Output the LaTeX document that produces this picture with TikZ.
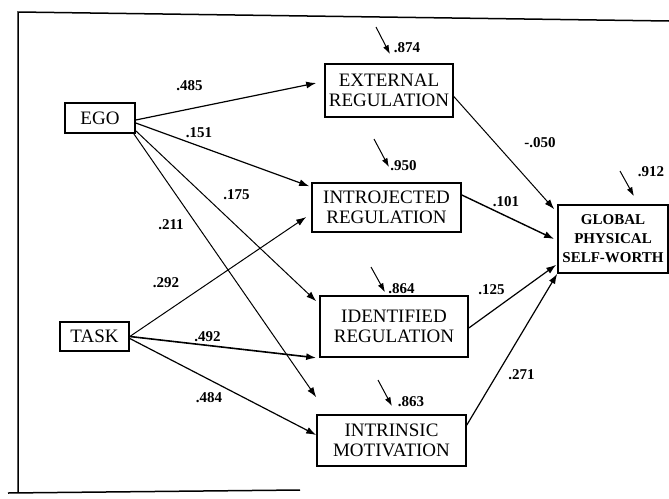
\documentclass[tikz,border=0pt]{standalone}
\usepackage{fontspec}
\setmainfont{Liberation Serif}
\usetikzlibrary{arrows.meta}

\begin{document}
\begin{tikzpicture}[x=1pt,y=-1pt,
  var/.style={draw,line width=1.6pt,inner sep=0pt,align=center,
    font=\fontsize{19}{20.5}\selectfont},
  coef/.style={inner sep=0pt,font=\bfseries\fontsize{15}{15}\selectfont},
  path/.style={line width=1.2pt,-{Latex[length=10pt,width=7pt]}},
  resid/.style={line width=1pt,-{Latex[length=9pt,width=6pt]}}]

\useasboundingbox (0,0) rectangle (669,498);

% Cadre
\draw[line width=1.5pt]
(669,21)
--
(18,12)
--
(18,492);

\draw[line width=1.5pt]
(8,493)
--
(300,490);

% Orientations
\node[var,minimum width=70pt,minimum height=30pt]
(ego) at (100,118)
{EGO};

\node[var,minimum width=69pt,minimum height=29pt]
(task) at (94.5,336.5)
{TASK};

% Regulations
\node[var,minimum width=128pt,minimum height=53pt]
(ext) at (389,90.5)
{EXTERNAL\\REGULATION};

\node[var,minimum width=149pt,minimum height=49pt]
(intro) at (386.5,207.5)
{INTROJECTED\\REGULATION};

\node[var,minimum width=148pt,minimum height=61pt]
(ident) at (394,326.5)
{IDENTIFIED\\REGULATION};

\node[var,minimum width=149pt,minimum height=51pt]
(intrin) at (391.5,440.5)
{INTRINSIC\\MOTIVATION};

% Estime de soi
\node[var,minimum width=110pt,minimum height=68pt,
  font=\bfseries\fontsize{15}{19}\selectfont]
(glob) at (613,239)
{GLOBAL\\PHYSICAL\\SELF-WORTH};

% Chemins EGO
\draw[path]
([yshift=-2pt]ego.east)
--
([xshift=-8pt,yshift=7.5pt]ext.west);

\draw[path]
([yshift=-5pt]ego.east)
--
([xshift=-2pt,yshift=-4pt]intro.north west);

\draw[path,line width=1pt]
([yshift=3pt]ego.south east)
--
([xshift=-3pt,yshift=-6pt]ident.north west);

\draw[path,line width=1pt]
([xshift=-2pt]ego.south east)
--
([yshift=17pt]intrin.north west);

% Chemins TASK
\draw[path,line width=1pt]
(task.east)
--
([xshift=-5pt,yshift=-9.5pt]intro.west);

\draw[path,line width=1.6pt]
(task.east)
--
([xshift=-3pt]ident.south west);

\draw[path]
([yshift=-2pt]task.east)
--
([yshift=5.5pt]intrin.west);

% Vers GLOBAL
\draw[path,line width=1pt]
([yshift=-6pt]ext.east)
--
([xshift=-3pt,yshift=-5pt]glob.north west);

\draw[path,line width=1.4pt]
([yshift=12.5pt]intro.east)
--
([xshift=-3pt]glob.west);

\draw[path]
([yshift=-1.5pt]ident.east)
--
([xshift=-1pt,yshift=9pt]glob.south west);

\draw[path]
([yshift=15.5pt]intrin.east)
--
(glob.south west);

% Residus
\coordinate (u1) at (376,27);
\coordinate (u2) at (374,139);
\coordinate (u3) at (371,267);
\coordinate (u4) at (378,380);
\coordinate (u5) at (620,171);

\draw[resid] (u1) -- ([xshift=1pt,yshift=9pt]ext.north);
\draw[resid] (u2) -- ([xshift=2.5pt,yshift=15pt]intro.north);
\draw[resid] (u3) -- ([xshift=-9pt,yshift=3pt]ident.north);
\draw[resid] (u4) -- ([xshift=0.5pt,yshift=8pt]intrin.north);
\draw[resid] (u5) -- ([xshift=21pt,yshift=8pt]glob.north);

\node[coef] (r1) at (407,48) {.874};
\node[coef] (r2) at (403.5,166) {.950};
\node[coef] (r3) at (401.5,289) {.864};
\node[coef] (r4) at (411,402) {.863};
\node[coef] (r5) at (651,172) {.912};

% Coefficients
\node[coef] (c1) at (189.5,86) {.485};
\node[coef] (c2) at (199,133) {.151};
\node[coef] (c3) at (236.5,195) {.175};
\node[coef] (c4) at (171,225) {.211};
\node[coef] (c5) at (166,283) {.292};
\node[coef] (c6) at (207.5,337) {.492};
\node[coef] (c7) at (209,398) {.484};
\node[coef] (c8) at (540,143) {-.050};
\node[coef] (c9) at (506,202) {.101};
\node[coef] (c10) at (491.5,290) {.125};
\node[coef] (c11) at (521.5,375) {.271};

\end{tikzpicture}
\end{document}
